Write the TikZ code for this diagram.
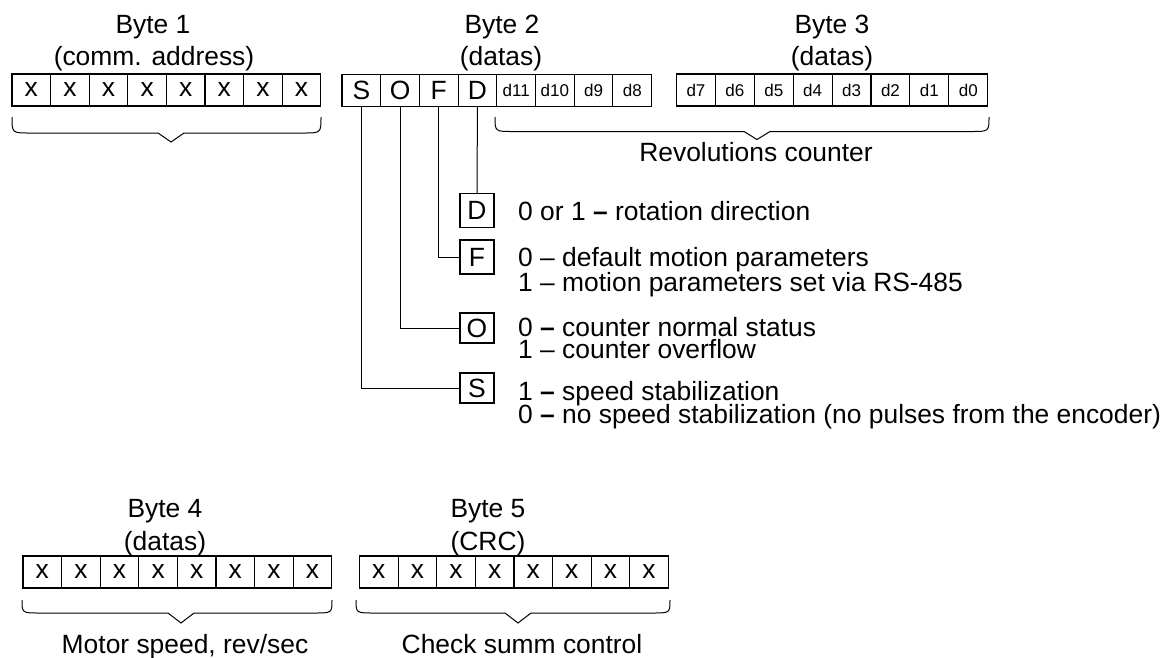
\documentclass[tikz,border=0pt]{standalone}
\usepackage{fontspec}
\setmainfont{Liberation Sans}
\newcommand\bigf{\fontsize{26.4}{26.4}\selectfont}
\newcommand\smallf{\fontsize{17}{17}\selectfont}
\tikzset{
  cell/.style={draw, line width=1.1pt, minimum width=38.7pt, minimum height=32pt, inner sep=0pt, font=\bigf},
  dcell/.style={cell, font=\smallf},
  big/.style={font=\bigf, inner sep=0pt, anchor=base},
  desc/.style={font=\bigf, inner sep=0pt, anchor=base west},
  sbox/.style={draw, line width=1.1pt, minimum width=34pt, inner sep=0pt, font=\bigf},
  conn/.style={line width=1pt},
  bracel/.style={line width=1pt}
}
\newcommand\mybrace[6]{%
  \draw[bracel] (#1,#4) .. controls (#1,#5) and (#1,#5) .. ({#1+18},#5)
    -- ({#3-13},#5) -- (#3,#6) -- ({#3+13},#5) -- ({#2-18},#5)
    .. controls (#2,#5) and (#2,#5) .. (#2,#4);}
\begin{document}
\begin{tikzpicture}[x=1pt,y=-1pt]
\path[use as bounding box] (0,0) rectangle (1168,657);
\fill[white] (0,0) rectangle (1168,657);

% Byte 1
\node[big] (h1a) at (153,33) {Byte 1};
\node[big] (h1b) at (154,65) {(comm. address)};
\foreach \i in {1,...,8} \node[cell] (a\i) at ({12+38.6*(\i-0.5)},90) {x};
\mybrace{12}{321}{171}{117}{133}{142}

% Byte 2
\node[big] (h2a) at (502,33) {Byte 2};
\node[big] (h2b) at (501,65) {(datas)};
\foreach \i/\t/\s in {1/S/cell,2/O/cell,3/F/cell,4/D/cell,5/d11/dcell,6/d10/dcell,7/d9/dcell,8/d8/dcell}
  \node[\s] (b\i) at ({342+38.7*(\i-0.5)},90.5) {\t};

% Byte 3
\node[big] (h3a) at (832,33) {Byte 3};
\node[big] (h3b) at (832,65) {(datas)};
\foreach \i/\t in {1/d7,2/d6,3/d5,4/d4,5/d3,6/d2,7/d1,8/d0}
  \node[dcell, minimum width=38.9pt] (c\i) at ({676.5+38.9*(\i-0.5)},90) {\t};
\mybrace{495}{989}{757}{117}{131.5}{139.5}
\node[big] (rev) at (756,161) {Revolutions counter};

% flag boxes
\node[sbox, minimum height=34pt] (sD) at (477,210.5) {D};
\node[sbox, minimum height=34pt] (sF) at (477,257) {F};
\node[sbox, minimum height=30pt] (sO) at (477,328) {O};
\node[sbox, minimum height=30pt] (sS) at (477,388) {S};
\draw[conn] (b4.south) -- (sD.north);
\draw[conn] (b3.south) |- (sF.west);
\draw[conn] (b2.south) |- (sO.west);
\draw[conn] (b1.south) |- (sS.west);

\node[desc] (tD) at (518,220) {0 or 1 \textbf{–} rotation direction};
\node[desc] (tF1) at (518,266.7) {0 – default motion parameters};
\node[desc] (tF2) at (518,291.7) {1 – motion parameters set via RS-485};
\node[desc] (tO1) at (518,336.7) {0 \textbf{–} counter normal status};
\node[desc] (tO2) at (518,358.3) {1 – counter overflow};
\node[desc] (tS1) at (518,400) {1 \textbf{–} speed stabilization};
\node[desc] (tS2) at (518,423) {0 \textbf{–} no speed stabilization (no pulses from the encoder)};

% Byte 4
\node[big] (h4a) at (165,517) {Byte 4};
\node[big] (h4b) at (165,550) {(datas)};
\foreach \i in {1,...,8} \node[cell] (e\i) at ({23+38.6*(\i-0.5)},572) {x};
\mybrace{22}{332}{181}{600}{613}{623}
\node[big] (mot) at (185,653) {Motor speed, rev/sec};

% Byte 5
\node[big] (h5a) at (488,517) {Byte 5};
\node[big] (h5b) at (488,550) {(CRC)};
\foreach \i in {1,...,8} \node[cell] (f\i) at ({359.5+38.6*(\i-0.5)},572) {x};
\mybrace{356}{670}{518}{600}{613}{623}
\node[big] (chk) at (522,653) {Check summ control};
\end{tikzpicture}
\end{document}
